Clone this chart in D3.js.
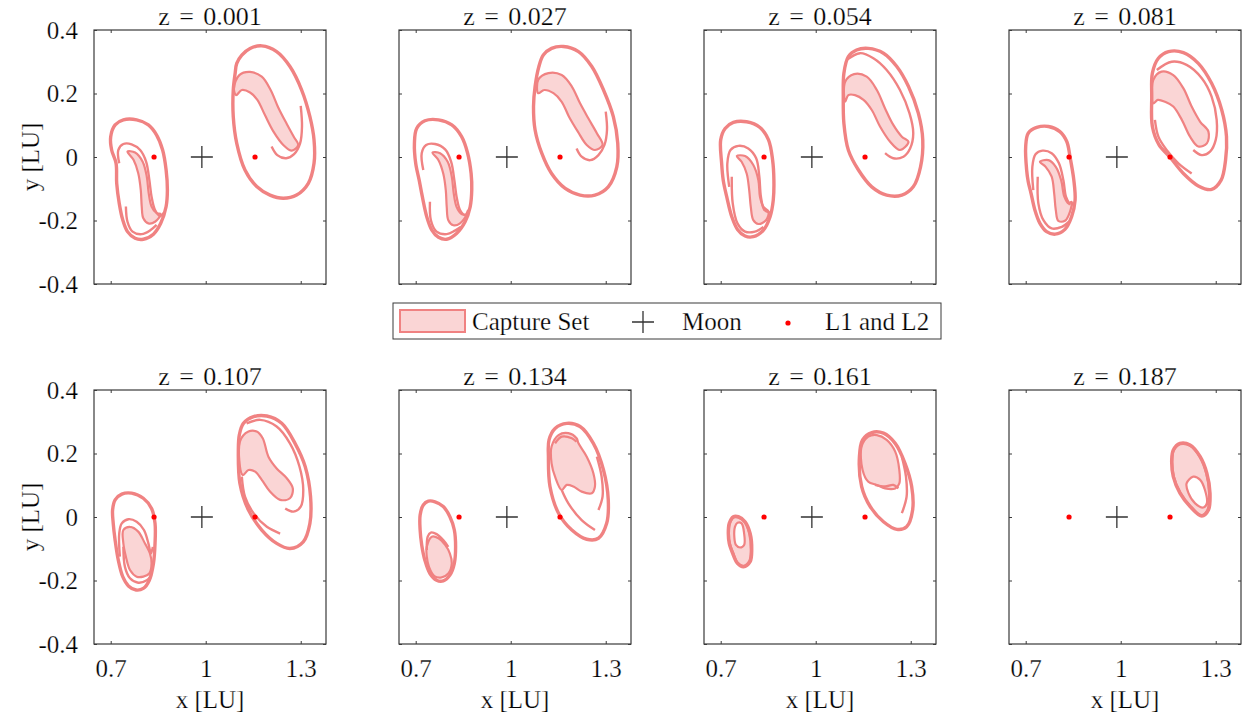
<!DOCTYPE html>
<html>
<head>
<meta charset="utf-8">
<script src="https://cdn.jsdelivr.net/npm/d3@7"></script>
<style>
body { margin: 0; background: #fff; }
svg text { font-family: "Liberation Serif", "Times New Roman", serif; font-weight: normal; fill: #000; stroke: #fff; stroke-width: 0.25px; }
</style>
</head>
<body>
<svg id="chart" width="1246" height="721"></svg>
<script>
// ---- values ----
var zLabels = ["0.001", "0.027", "0.054", "0.081", "0.107", "0.134", "0.161", "0.187"];
var moonX = 0.98785;
var lagrangeX = [0.8369, 1.1557];
var xTicks = [0.7, 1, 1.3];
var xTickLabels = ["0.7", "1", "1.3"];
var yTicks = [-0.4, -0.2, 0, 0.2, 0.4];
var yTickLabels = ["-0.4", "-0.2", "0", "0.2", "0.4"];

// z = 0.001
var z001LeftOuter = [[0.717,-0.020],[0.703,0.022],[0.700,0.064],[0.714,0.101],[0.740,0.117],[0.782,0.117],[0.819,0.101],[0.845,0.069],[0.864,0.022],[0.875,-0.041],[0.879,-0.104],[0.875,-0.156],[0.858,-0.209],[0.835,-0.243],[0.803,-0.259],[0.777,-0.256],[0.753,-0.235],[0.738,-0.198],[0.727,-0.146],[0.719,-0.083]];
var z001LeftInner = [[[0.727,-0.020],[0.724,0.022],[0.740,0.041],[0.766,0.040],[0.793,0.022],[0.812,-0.015],[0.822,-0.072],[0.829,-0.125],[0.840,-0.167],[0.856,-0.186],[0.868,-0.175]],
                     [[0.748,-0.156],[0.753,-0.204],[0.769,-0.235],[0.798,-0.243],[0.826,-0.230],[0.845,-0.214]]];
var z001LeftBand = [[0.753,0.017],[0.777,0.014],[0.801,-0.015],[0.814,-0.062],[0.820,-0.114],[0.829,-0.156],[0.845,-0.177],[0.858,-0.180],[0.840,-0.204],[0.819,-0.209],[0.803,-0.193],[0.798,-0.156],[0.795,-0.104],[0.787,-0.051],[0.772,-0.009]];
var z001RightOuter = [[1.087,0.211],[1.087,0.127],[1.098,0.043],[1.124,-0.041],[1.161,-0.093],[1.203,-0.120],[1.245,-0.130],[1.287,-0.120],[1.324,-0.083],[1.342,-0.020],[1.342,0.054],[1.329,0.127],[1.303,0.211],[1.266,0.285],[1.224,0.332],[1.177,0.350],[1.140,0.342],[1.114,0.321],[1.098,0.295],[1.093,0.264]];
var z001RightInner = [[[1.300,0.161],[1.304,0.096],[1.298,0.043],[1.279,0.009],[1.254,-0.004],[1.226,0.006],[1.208,0.033]]];
var z001RightBand = [[1.089,0.216],[1.106,0.258],[1.140,0.268],[1.177,0.253],[1.205,0.211],[1.229,0.156],[1.256,0.104],[1.279,0.062],[1.292,0.038],[1.272,0.020],[1.245,0.038],[1.214,0.080],[1.187,0.132],[1.163,0.180],[1.140,0.203],[1.114,0.211],[1.096,0.195]];

// z = 0.027
var z027LeftOuter = [[0.700,-0.020],[0.696,0.043],[0.703,0.090],[0.729,0.114],[0.772,0.117],[0.814,0.101],[0.845,0.064],[0.864,0.012],[0.875,-0.052],[0.877,-0.104],[0.872,-0.157],[0.856,-0.204],[0.829,-0.241],[0.798,-0.259],[0.772,-0.253],[0.751,-0.230],[0.735,-0.188],[0.721,-0.125],[0.711,-0.073]];
var z027LeftInner = [[[0.724,-0.041],[0.719,0.012],[0.733,0.038],[0.761,0.041],[0.793,0.024],[0.812,-0.015],[0.822,-0.073],[0.829,-0.125],[0.840,-0.167],[0.856,-0.183],[0.866,-0.167]],
                     [[0.745,-0.141],[0.748,-0.199],[0.766,-0.235],[0.798,-0.243],[0.824,-0.232],[0.843,-0.220]]];
var z027LeftBand = [[0.753,0.014],[0.777,0.012],[0.801,-0.015],[0.814,-0.062],[0.820,-0.114],[0.829,-0.157],[0.845,-0.180],[0.858,-0.183],[0.840,-0.209],[0.819,-0.215],[0.803,-0.199],[0.798,-0.157],[0.795,-0.104],[0.787,-0.052],[0.772,-0.010]];
var z027RightOuter = [[1.072,0.159],[1.077,0.085],[1.098,0.012],[1.129,-0.052],[1.172,-0.099],[1.219,-0.120],[1.266,-0.120],[1.308,-0.094],[1.335,-0.031],[1.338,0.043],[1.324,0.127],[1.293,0.211],[1.256,0.285],[1.214,0.332],[1.166,0.348],[1.129,0.342],[1.103,0.321],[1.089,0.285],[1.077,0.222]];
var z027RightInner = [[[1.300,0.143],[1.304,0.085],[1.296,0.038],[1.277,0.006],[1.251,-0.010],[1.224,0.001],[1.208,0.027]]];
var z027RightBand = [[1.087,0.243],[1.119,0.264],[1.161,0.258],[1.193,0.222],[1.219,0.169],[1.245,0.122],[1.272,0.075],[1.290,0.038],[1.266,0.022],[1.240,0.038],[1.212,0.080],[1.184,0.127],[1.161,0.174],[1.135,0.201],[1.106,0.211],[1.087,0.201]];

// z = 0.054
var z054LeftOuter = [[0.703,-0.020],[0.700,0.054],[0.714,0.090],[0.740,0.109],[0.782,0.111],[0.824,0.093],[0.851,0.054],[0.864,-0.010],[0.868,-0.073],[0.866,-0.136],[0.856,-0.188],[0.835,-0.230],[0.803,-0.251],[0.777,-0.249],[0.753,-0.228],[0.735,-0.188],[0.719,-0.125],[0.708,-0.073]];
var z054LeftInner = [[[0.727,-0.094],[0.721,-0.020],[0.731,0.022],[0.756,0.035],[0.787,0.027],[0.812,-0.004],[0.822,-0.062],[0.827,-0.125],[0.838,-0.167],[0.856,-0.175]],
                     [[0.735,-0.062],[0.738,-0.146],[0.753,-0.209],[0.777,-0.235],[0.808,-0.235],[0.835,-0.220]]];
var z054LeftBand = [[0.751,0.003],[0.777,0.003],[0.803,-0.025],[0.819,-0.073],[0.824,-0.125],[0.835,-0.157],[0.851,-0.172],[0.843,-0.199],[0.819,-0.211],[0.803,-0.199],[0.795,-0.157],[0.790,-0.104],[0.782,-0.052],[0.766,-0.015]];
var z054RightOuter = [[1.087,0.190],[1.089,0.106],[1.103,0.022],[1.135,-0.041],[1.177,-0.094],[1.224,-0.120],[1.272,-0.120],[1.308,-0.094],[1.331,-0.031],[1.338,0.054],[1.324,0.138],[1.293,0.222],[1.256,0.285],[1.214,0.327],[1.166,0.342],[1.129,0.337],[1.103,0.316],[1.089,0.264]];
var z054RightInner = [[[1.098,0.306],[1.140,0.327],[1.182,0.311],[1.224,0.274],[1.266,0.211],[1.296,0.138],[1.308,0.075],[1.298,0.027],[1.277,0.001],[1.245,-0.004],[1.219,0.012]]];
var z054RightBand = [[1.093,0.237],[1.121,0.261],[1.161,0.253],[1.193,0.211],[1.219,0.153],[1.245,0.101],[1.272,0.064],[1.293,0.048],[1.266,0.022],[1.235,0.048],[1.203,0.096],[1.177,0.148],[1.151,0.180],[1.124,0.195],[1.103,0.195],[1.093,0.174]];

// z = 0.081
var z081LeftOuter = [[0.703,-0.041],[0.700,0.033],[0.708,0.075],[0.735,0.093],[0.772,0.096],[0.808,0.080],[0.830,0.048],[0.840,0.000],[0.852,-0.073],[0.856,-0.136],[0.845,-0.188],[0.824,-0.228],[0.793,-0.243],[0.766,-0.235],[0.745,-0.209],[0.729,-0.167],[0.717,-0.115],[0.708,-0.078]];
var z081LeftInner = [[[0.724,-0.104],[0.721,-0.031],[0.731,0.009],[0.753,0.020],[0.782,0.012],[0.805,-0.020],[0.819,-0.073],[0.827,-0.125],[0.840,-0.151]],
                     [[0.738,-0.062],[0.740,-0.146],[0.756,-0.199],[0.782,-0.225],[0.814,-0.220],[0.837,-0.204]]];
var z081LeftBand = [[0.745,-0.015],[0.772,-0.010],[0.795,-0.031],[0.812,-0.073],[0.822,-0.125],[0.835,-0.146],[0.845,-0.141],[0.840,-0.172],[0.824,-0.201],[0.803,-0.201],[0.795,-0.167],[0.790,-0.115],[0.782,-0.062],[0.763,-0.031]];
var z081RightOuter = [[1.098,0.190],[1.100,0.096],[1.121,0.038],[1.155,0.000],[1.198,-0.052],[1.245,-0.091],[1.287,-0.102],[1.317,-0.073],[1.331,-0.010],[1.334,0.064],[1.319,0.148],[1.287,0.232],[1.245,0.295],[1.198,0.329],[1.151,0.332],[1.119,0.311],[1.100,0.264]];
var z081RightInner = [[[1.114,0.274],[1.161,0.300],[1.208,0.290],[1.256,0.248],[1.287,0.190],[1.303,0.117],[1.300,0.054],[1.282,0.017],[1.256,0.006],[1.229,0.022]],
                      [[1.108,0.117],[1.119,0.064],[1.145,0.022],[1.182,-0.020],[1.224,-0.052]]];
var z081RightBand = [[1.103,0.243],[1.129,0.269],[1.166,0.258],[1.198,0.216],[1.224,0.159],[1.251,0.111],[1.277,0.080],[1.272,0.043],[1.245,0.033],[1.219,0.064],[1.193,0.117],[1.166,0.159],[1.140,0.174],[1.117,0.180],[1.103,0.169]];

// z = 0.107
var z107LeftOuter = [[0.708,-0.020],[0.706,0.022],[0.714,0.054],[0.735,0.072],[0.766,0.075],[0.803,0.059],[0.829,0.027],[0.840,-0.020],[0.840,-0.083],[0.835,-0.146],[0.822,-0.199],[0.803,-0.225],[0.780,-0.230],[0.756,-0.217],[0.738,-0.188],[0.724,-0.136],[0.714,-0.073]];
var z107LeftInner = [[[0.729,-0.125],[0.727,-0.052],[0.735,-0.020],[0.756,-0.007],[0.782,-0.015],[0.805,-0.041],[0.819,-0.083],[0.827,-0.115],[0.833,-0.094]],
                     [[0.740,-0.094],[0.745,-0.157],[0.761,-0.193],[0.787,-0.207],[0.814,-0.199],[0.829,-0.183]]];
var z107LeftBand = [[0.740,-0.041],[0.761,-0.031],[0.787,-0.046],[0.808,-0.083],[0.824,-0.115],[0.829,-0.146],[0.822,-0.178],[0.803,-0.188],[0.782,-0.188],[0.761,-0.167],[0.748,-0.125],[0.740,-0.083]];
var z107RightOuter = [[1.103,0.211],[1.108,0.106],[1.135,0.022],[1.177,-0.041],[1.224,-0.083],[1.266,-0.099],[1.308,-0.078],[1.329,-0.020],[1.331,0.064],[1.314,0.159],[1.282,0.232],[1.240,0.295],[1.193,0.318],[1.151,0.316],[1.119,0.295],[1.106,0.258]];
var z107RightInner = [[[1.129,0.295],[1.172,0.306],[1.224,0.285],[1.266,0.232],[1.296,0.159],[1.308,0.085],[1.300,0.033],[1.277,0.017],[1.251,0.027]],
                      [[1.114,0.127],[1.124,0.064],[1.151,0.012],[1.193,-0.031],[1.235,-0.052]]];
var z107RightBand = [[1.108,0.237],[1.135,0.269],[1.161,0.269],[1.180,0.248],[1.198,0.190],[1.224,0.153],[1.256,0.122],[1.275,0.090],[1.266,0.059],[1.235,0.054],[1.203,0.080],[1.177,0.117],[1.156,0.143],[1.135,0.148],[1.117,0.132]];

// z = 0.134
var z134LeftOuter = [[0.714,-0.041],[0.714,0.006],[0.724,0.038],[0.740,0.050],[0.761,0.048],[0.787,0.033],[0.808,0.001],[0.822,-0.041],[0.826,-0.094],[0.822,-0.146],[0.808,-0.183],[0.787,-0.201],[0.766,-0.199],[0.745,-0.178],[0.729,-0.136],[0.719,-0.088]];
var z134LeftInner = [[[0.735,-0.104],[0.738,-0.062],[0.748,-0.049],[0.766,-0.054],[0.787,-0.073],[0.803,-0.094]]];
var z134LeftBand = [[0.735,-0.094],[0.751,-0.062],[0.772,-0.067],[0.793,-0.088],[0.808,-0.115],[0.814,-0.146],[0.803,-0.178],[0.782,-0.190],[0.759,-0.186],[0.742,-0.157],[0.735,-0.125]];
var z134RightOuter = [[1.119,0.190],[1.124,0.096],[1.151,0.012],[1.193,-0.041],[1.240,-0.070],[1.277,-0.067],[1.303,-0.020],[1.308,0.054],[1.293,0.148],[1.261,0.232],[1.219,0.285],[1.177,0.295],[1.140,0.279],[1.121,0.243]];
var z134RightInner = [[[1.140,0.232],[1.161,0.253],[1.193,0.248],[1.208,0.237]],
                      [[1.161,0.085],[1.182,0.043],[1.224,-0.010],[1.266,-0.041]],
                      [[1.272,0.190],[1.287,0.127],[1.290,0.064],[1.277,0.022]]];
var z134RightBand = [[1.129,0.222],[1.151,0.258],[1.182,0.264],[1.208,0.248],[1.214,0.232],[1.240,0.190],[1.261,0.138],[1.266,0.096],[1.256,0.075],[1.224,0.080],[1.198,0.096],[1.177,0.101],[1.161,0.085],[1.140,0.127],[1.129,0.169]];

// z = 0.161
var z161LeftOuter = [[0.724,-0.052],[0.727,-0.020],[0.740,0.001],[0.756,0.001],[0.777,-0.015],[0.793,-0.052],[0.798,-0.104],[0.793,-0.141],[0.772,-0.157],[0.753,-0.146],[0.738,-0.115],[0.727,-0.083]];
var z161LeftBand = [[0.726,-0.052],[0.729,-0.022],[0.741,-0.002],[0.756,-0.002],[0.775,-0.016],[0.790,-0.052],[0.795,-0.104],[0.790,-0.139],[0.772,-0.154],[0.754,-0.144],[0.740,-0.114],[0.729,-0.083]];
var z161LeftHole = [[0.745,-0.031],[0.753,-0.018],[0.766,-0.020],[0.774,-0.052],[0.774,-0.088],[0.761,-0.096],[0.748,-0.088],[0.743,-0.062]];
var z161RightOuter = [[1.138,0.190],[1.145,0.096],[1.172,0.033],[1.214,-0.015],[1.256,-0.039],[1.287,-0.031],[1.306,0.022],[1.303,0.096],[1.282,0.169],[1.251,0.232],[1.214,0.264],[1.177,0.266],[1.148,0.243]];
var z161RightInner = [[[1.187,0.101],[1.219,0.096],[1.245,0.101],[1.261,0.090]],
                      [[1.272,0.190],[1.285,0.127],[1.287,0.064],[1.272,0.012]]];
var z161RightBand = [[1.145,0.222],[1.166,0.253],[1.193,0.258],[1.224,0.243],[1.251,0.206],[1.264,0.148],[1.264,0.106],[1.251,0.090],[1.219,0.090],[1.193,0.101],[1.166,0.111],[1.148,0.148]];

// z = 0.187
var z187RightOuter = [[1.161,0.180],[1.166,0.127],[1.187,0.075],[1.219,0.033],[1.256,0.003],[1.277,0.022],[1.282,0.075],[1.272,0.138],[1.251,0.190],[1.219,0.227],[1.187,0.232],[1.166,0.211]];
var z187RightBand = [[1.163,0.180],[1.168,0.127],[1.189,0.076],[1.220,0.035],[1.255,0.006],[1.274,0.023],[1.279,0.075],[1.270,0.137],[1.250,0.188],[1.219,0.224],[1.188,0.229],[1.168,0.210]];
var z187RightHole = [[1.208,0.106],[1.229,0.127],[1.251,0.117],[1.266,0.085],[1.272,0.043],[1.261,0.030],[1.235,0.043],[1.214,0.075]];

// ---- panel table built from the arrays above ----
var panels = [
  {z: zLabels[0], left: {outer: z001LeftOuter, inner: z001LeftInner, band: z001LeftBand}, right: {outer: z001RightOuter, inner: z001RightInner, band: z001RightBand}},
  {z: zLabels[1], left: {outer: z027LeftOuter, inner: z027LeftInner, band: z027LeftBand}, right: {outer: z027RightOuter, inner: z027RightInner, band: z027RightBand}},
  {z: zLabels[2], left: {outer: z054LeftOuter, inner: z054LeftInner, band: z054LeftBand}, right: {outer: z054RightOuter, inner: z054RightInner, band: z054RightBand}},
  {z: zLabels[3], left: {outer: z081LeftOuter, inner: z081LeftInner, band: z081LeftBand}, right: {outer: z081RightOuter, inner: z081RightInner, band: z081RightBand}},
  {z: zLabels[4], left: {outer: z107LeftOuter, inner: z107LeftInner, band: z107LeftBand}, right: {outer: z107RightOuter, inner: z107RightInner, band: z107RightBand}},
  {z: zLabels[5], left: {outer: z134LeftOuter, inner: z134LeftInner, band: z134LeftBand}, right: {outer: z134RightOuter, inner: z134RightInner, band: z134RightBand}},
  {z: zLabels[6], left: {outer: z161LeftOuter, inner: [], band: z161LeftBand, hole: z161LeftHole}, right: {outer: z161RightOuter, inner: z161RightInner, band: z161RightBand}},
  {z: zLabels[7], left: null, right: {outer: z187RightOuter, inner: [], band: z187RightBand, hole: z187RightHole}}
];

var stroke = '#f08282', fill = '#fad5d5', axisColor = '#3a3a3a';
var colLeft = [94, 399, 704, 1009], rowTop = [30, 390];
var W = 232, H = 254;

var svg = d3.select('#chart');

panels.forEach(function(p, i){
    var col = i % 4, row = Math.floor(i / 4);
    var g = svg.append('g').attr('transform', 'translate(' + colLeft[col] + ',' + rowTop[row] + ')');

    var x = d3.scaleLinear().domain([0.6473, 1.3798]).range([0, W]);
    var y = d3.scaleLinear().domain([-0.4, 0.4]).range([H, 0]);

    var closed = d3.line().x(function(d){ return x(d[0]); }).y(function(d){ return y(d[1]); }).curve(d3.curveCatmullRomClosed);
    var open = d3.line().x(function(d){ return x(d[0]); }).y(function(d){ return y(d[1]); }).curve(d3.curveCatmullRom);

    var clipId = 'clip' + i;
    g.append('clipPath').attr('id', clipId).append('rect').attr('width', W).attr('height', H);
    var plot = g.append('g').attr('clip-path', 'url(#' + clipId + ')');

    [p.left, p.right].forEach(function(r){
        if (!r) return;
        plot.append('path')
            .attr('d', closed(r.band) + (r.hole ? closed(r.hole) : ''))
            .attr('fill-rule', 'evenodd')
            .style('fill', fill)
            .style('stroke', stroke)
            .style('stroke-width', 2.2);
        r.inner.forEach(function(c){
            plot.append('path').attr('d', open(c))
                .style('fill', 'none').style('stroke', stroke).style('stroke-width', 2.4);
        });
        plot.append('path').attr('d', closed(r.outer))
            .style('fill', 'none').style('stroke', stroke).style('stroke-width', 3.4);
    });

    // moon
    plot.append('path')
        .attr('d', 'M' + (x(moonX) - 11) + ',' + y(0) + 'H' + (x(moonX) + 11) + 'M' + x(moonX) + ',' + (y(0) - 11) + 'V' + (y(0) + 11))
        .style('stroke', '#333').style('stroke-width', 1.3);

    // L1, L2
    plot.selectAll('.lp').data(lagrangeX).enter().append('circle')
        .attr('cx', function(d){ return x(d); })
        .attr('cy', y(0))
        .attr('r', 2.6)
        .style('fill', '#ff0000');

    // axes (ticks inside, box)
    var bottom = g.append('g').attr('transform', 'translate(0,' + H + ')')
        .call(d3.axisBottom(x).tickValues(xTicks).tickSize(-3).tickPadding(15)
              .tickFormat(function(d, k){ return row === 1 ? xTickLabels[k] : ''; }));
    var top = g.append('g').call(d3.axisTop(x).tickValues(xTicks).tickSize(-3).tickFormat(''));
    var left = g.append('g')
        .call(d3.axisLeft(y).tickValues(yTicks).tickSize(-3).tickPadding(16)
              .tickFormat(function(d, k){ return col === 0 ? yTickLabels[k] : ''; }));
    var right = g.append('g').attr('transform', 'translate(' + W + ',0)')
        .call(d3.axisRight(y).tickValues(yTicks).tickSize(-3).tickFormat(''));

    [bottom, top, left, right].forEach(function(a){
        a.select('.domain').remove();
        a.selectAll('line').style('stroke', axisColor);
        a.selectAll('text').style('font-family', '"Liberation Serif", serif').style('font-size', '25px').style('fill', '#000');
    });

    g.append('rect').attr('width', W).attr('height', H)
        .style('fill', 'none').style('stroke', axisColor).style('stroke-width', 1.2);

    // title
    g.append('text').attr('x', W / 2).attr('y', -5)
        .attr('text-anchor', 'middle').style('font-size', '26px').style('word-spacing', '3px')
        .text('z = ' + p.z);

    if (row === 1) {
        g.append('text').attr('x', W / 2).attr('y', H + 64)
            .attr('text-anchor', 'middle').style('font-size', '25px').text('x [LU]');
    }
    if (col === 0) {
        g.append('text').attr('transform', 'translate(-55,' + (H / 2) + ') rotate(-90)')
            .attr('text-anchor', 'middle').style('font-size', '25px').text('y [LU]');
    }
});

// legend
var lg = svg.append('g');
lg.append('rect').attr('x', 393).attr('y', 303).attr('width', 548).attr('height', 36)
    .style('fill', '#fff').style('stroke', axisColor).style('stroke-width', 1);
lg.append('rect').attr('x', 400).attr('y', 310).attr('width', 65).attr('height', 22)
    .style('fill', fill).style('stroke', stroke).style('stroke-width', 2);
lg.append('text').attr('x', 472).attr('y', 330).style('font-size', '25px').text('Capture Set');
lg.append('path').attr('d', 'M632,322H654M643,311V333').style('stroke', '#333').style('stroke-width', 1.3);
lg.append('text').attr('x', 682).attr('y', 330).style('font-size', '25px').text('Moon');
lg.append('circle').attr('cx', 788).attr('cy', 323).attr('r', 2.6).style('fill', '#ff0000');
lg.append('text').attr('x', 825).attr('y', 330).style('font-size', '25px').text('L1 and L2');
</script>
</body>
</html>
